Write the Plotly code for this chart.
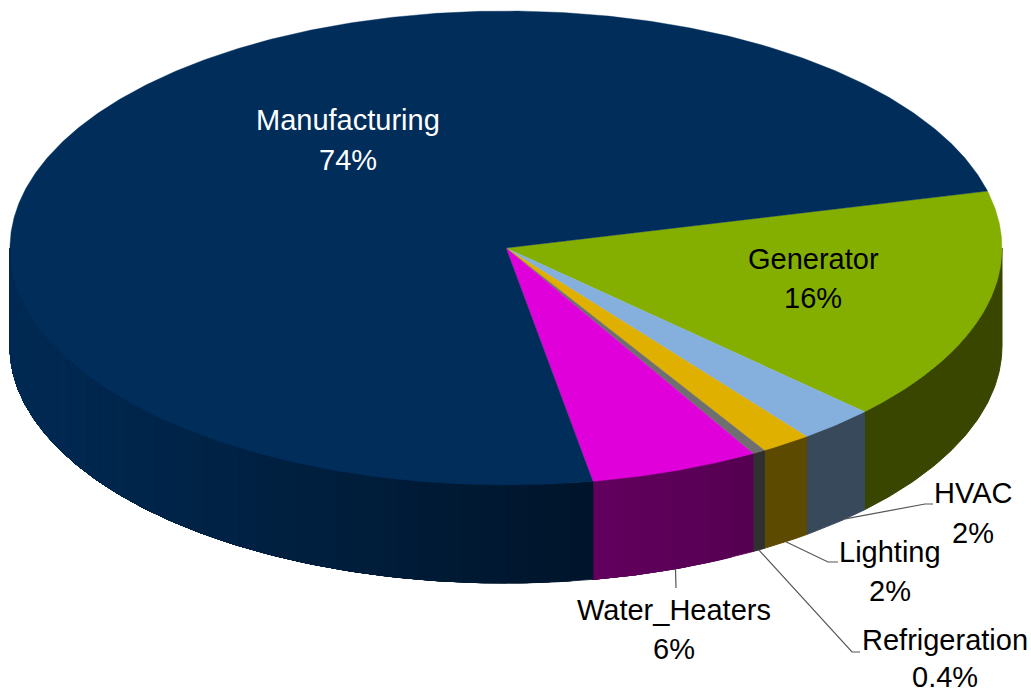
import numpy as np
import plotly.graph_objects as go

# Data, clockwise from the Generator slice
categories = ["Generator", "HVAC", "Lighting", "Refrigeration", "Water_Heaters", "Manufacturing"]
shares = [16.0, 2.5, 1.64, 0.42, 5.5, 73.94]
pct_labels = ["16%", "2%", "2%", "0.4%", "6%", "74%"]

top_colors = ["#84AF00", "#85B0DD", "#DFB000", "#6F6F6F", "#E000DA", "#002D5A"]
wall_left = ["#384600", "#38495C", "#5C4A00", "#303030", "#62005E", "#002A54"]
wall_right = ["#384600", "#38495C", "#5C4A00", "#303030", "#560052", "#00152B"]
text_colors = ["black", "black", "black", "black", "black", "white"]

# Drawing geometry (pixels of the 1031x694 frame)
CX, CY, RX, RY, DEPTH = 506.0, 248.0, 496.0, 237.0, 98.0
START_DEG = 13.9
label_pos = {
    "Generator": (813, 259, 298), "HVAC": (973, 493, 533), "Lighting": (890, 552, 591),
    "Refrigeration": (945, 640, 677), "Water_Heaters": (674, 610, 649), "Manufacturing": (348, 120, 160),
}
leader_elbows = {
    "HVAC": [(925, 504), (933, 504)], "Lighting": [(828, 562), (838, 562)],
    "Refrigeration": [(852, 652), (860, 652)], "Water_Heaters": [(676, 588)],
}
anchor_frac = {"HVAC": 0.35, "Lighting": 0.5, "Refrigeration": 0.5, "Water_Heaters": 0.5}

def px(t):
    return CX + RX * np.cos(np.radians(t)), CY - RY * np.sin(np.radians(t))

def hex2rgb(h):
    return np.array([int(h[i:i + 2], 16) for i in (1, 3, 5)], dtype=float)

fig = go.Figure()
total = sum(shares)
edges = START_DEG - np.cumsum([0] + shares) * 360 / total  # decreasing param angle

def poly(x, y, color, lw=0.0):
    fig.add_trace(go.Scatter(x=x, y=y, mode="lines", fill="toself", fillcolor=color,
                             line=dict(color=color, width=lw), hoverinfo="skip", showlegend=False))

def wall(t0, t1, color, lw=0.0):
    ts = np.linspace(t0, t1, max(3, int(abs(t1 - t0) * 2)))
    x, y = px(ts)
    poly(np.r_[x, x[::-1], x[0]], np.r_[y, y[::-1] + DEPTH, y[0]], color, lw)

# Side walls: visible only on the front half (param angle between 0 and -180)
for i in range(len(categories)):
    lo, hi = max(edges[i + 1], -180.0), min(edges[i], 0.0)
    if lo >= hi:
        continue
    if wall_left[i] == wall_right[i]:
        wall(hi, lo, wall_left[i], lw=1.0)
        continue
    # Banded gradient: each band runs on to the slice's far end and is overpainted by the next
    cl, cr = hex2rgb(wall_left[i]), hex2rgb(wall_right[i])
    x_lo, x_hi = sorted((px(hi)[0], px(lo)[0]))
    cuts = np.linspace(hi, lo, max(2, int((hi - lo) / 2.5) + 1))
    for c0, c1 in zip(cuts[:-1], cuts[1:]):
        f = (px((c0 + c1) / 2)[0] - x_lo) / (x_hi - x_lo)
        wall(c0, lo, "rgb(%d,%d,%d)" % tuple(cl + (cr - cl) * f), lw=0.8)

# Top face
for i in range(len(categories)):
    ts = np.linspace(edges[i], edges[i + 1], max(3, int(abs(edges[i + 1] - edges[i]) * 2)))
    x, y = px(ts)
    poly(np.r_[CX, x, CX], np.r_[CY, y, CY], top_colors[i], lw=0.4)

# Leader lines
for name, elbows in leader_elbows.items():
    i = categories.index(name)
    t = edges[i] + (edges[i + 1] - edges[i]) * anchor_frac[name]
    ax, ay = px(t)
    fig.add_trace(go.Scatter(x=[ax] + [e[0] for e in elbows], y=[ay + DEPTH] + [e[1] for e in elbows],
                             mode="lines", line=dict(color="#555555", width=1.2),
                             hoverinfo="skip", showlegend=False))

# Labels
ann = []
for name, pct, col in zip(categories, pct_labels, text_colors):
    lx, y1, y2 = label_pos[name]
    for txt, yy in ((name, y1), (pct, y2)):
        ann.append(dict(x=lx, y=yy, text=txt, showarrow=False, xanchor="center", yanchor="middle",
                        font=dict(family="Liberation Sans", size=29, color=col)))

fig.update_layout(
    width=1031, height=694, margin=dict(l=0, r=0, t=0, b=0),
    paper_bgcolor="white", plot_bgcolor="white", showlegend=False, annotations=ann,
    xaxis=dict(range=[0, 1031], visible=False, fixedrange=True),
    yaxis=dict(range=[694, 0], visible=False, fixedrange=True),
)
fig.write_html("out.html", config={"displayModeBar": False},
               post_script="document.body.style.margin='0';")
